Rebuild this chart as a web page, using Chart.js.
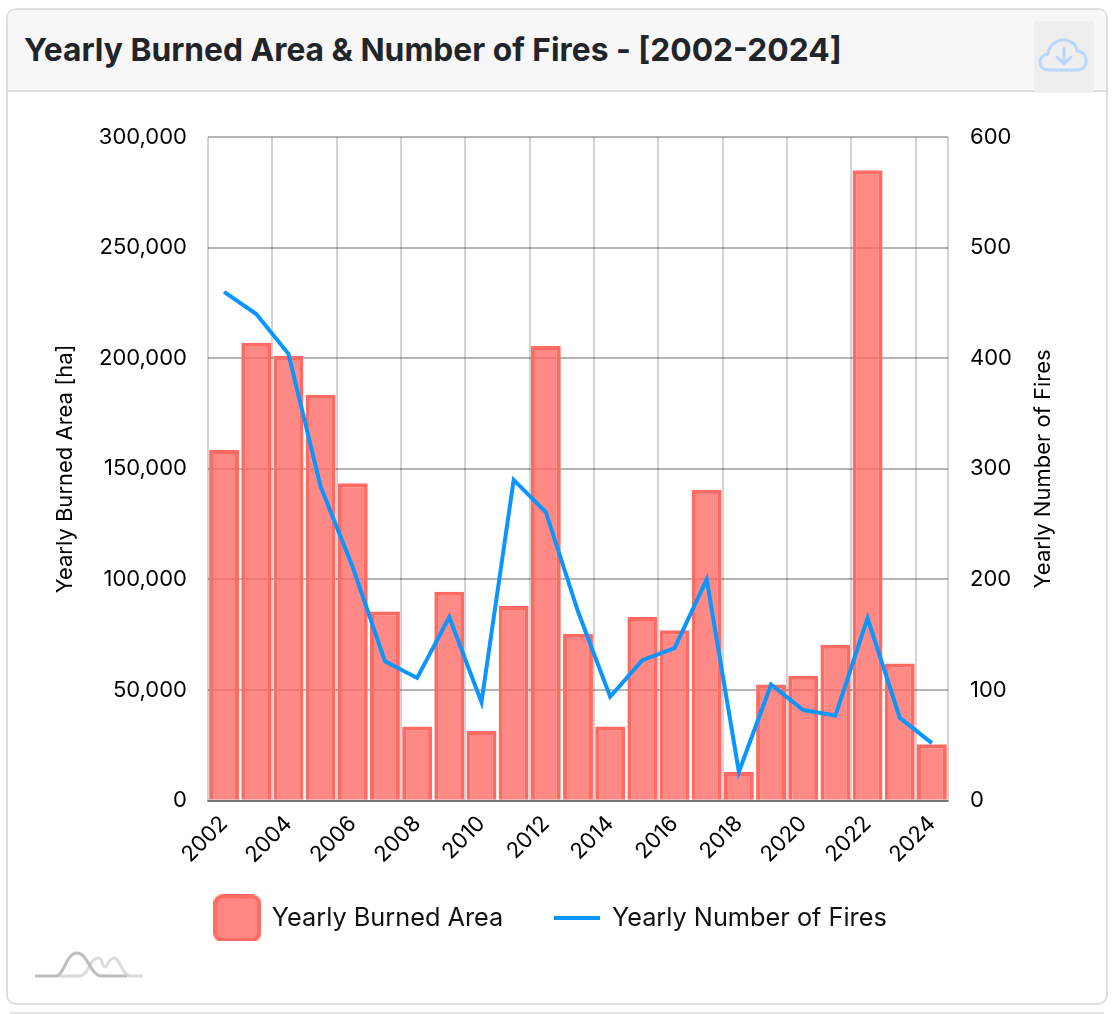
<!DOCTYPE html>
<html><head><meta charset="utf-8">
<script src="https://cdn.jsdelivr.net/npm/chart.js@4"></script>
<style>
html,body{margin:0;padding:0;background:#fff;width:1114px;height:1014px;overflow:hidden}
#card{position:absolute;left:6px;top:8px;width:1098px;height:993px;border:2px solid #dfdfdf;border-radius:10px;box-sizing:content-box}
#head{position:absolute;left:0;top:0;right:0;height:80px;background:#f7f7f7;border-bottom:2px solid #dfdfdf;border-radius:8px 8px 0 0}
#title{position:absolute;left:16px;top:20px;font:700 31.75px/40px Inter,sans-serif;color:#212529;white-space:nowrap}
#btn{position:absolute;left:1026px;top:11px;width:60px;height:72px;background:#eee;border-radius:4px}
#next{position:absolute;left:10px;top:1012px;width:1094px;height:2px;background:#e6e6e6}
canvas{position:absolute;left:8px;top:92px}
svg{position:absolute}
</style></head><body>
<div id="card"><div id="head"><div id="title">Yearly Burned Area &amp; Number of Fires - [2002-2024]</div>
<div id="btn"></div></div></div>
<div id="next"></div>
<svg style="left:1036px;top:36px" width="56" height="40" viewBox="0 0 56 40" fill="none" stroke="#b9d6fb" stroke-width="3" stroke-linecap="round" stroke-linejoin="round">
<path d="M13 34 C1 34 1 19 12 18 C13 8 24 1 33 5 C38 7 41 11 41 15 C52 15 54 33 42 34 Z"/><path d="M28 12 V27 M21 21 L28 28 L35 21"/></svg>
<svg style="left:30px;top:945px" width="120" height="40" viewBox="0 0 120 40" fill="none" stroke-width="3">
<path stroke="#dcdcdc" d="M28 31 H50 C58 31 60 13 68 13 C73 13 72 22 75 22 C78 22 78 13 84 13 C90 13 92 31 100 31 H113"/>
<path stroke="#bdbdbd" d="M5 31 H26 C34 31 36 8 47 8 C58 8 60 31 72 31 H97"/></svg>
<canvas id="c" width="1098" height="910"></canvas>
<script>
const years=['2002','2003','2004','2005','2006','2007','2008','2009','2010','2011','2012','2013','2014','2015','2016','2017','2018','2019','2020','2021','2022','2023','2024'];
const burnedArea=[158500,207000,201000,183500,143500,85500,33500,94500,31500,88000,205500,75500,33500,83000,77000,140500,13000,52500,56500,70500,285000,62000,25500];
const fireCount=[460,440,404,284,211,126,111,166,89,290,261,171,94,127,138,200,26,105,82,77,165,75,52];
const leftTitle='Yearly Burned Area [ha]', rightTitle='Yearly Number of Fires';
const barFill='rgba(255,99,92,0.75)', barEdge='#ff6b63', lineColor='#0a95ff';
const fam='Inter, sans-serif';
const font={family:fam,size:22};
function boxIcon(){const c=document.createElement('canvas');c.width=48;c.height=48;const g=c.getContext('2d');
 g.beginPath();g.roundRect(2,2,44,44,7);g.fillStyle='#ff8783';g.fill();g.lineWidth=4;g.strokeStyle=barEdge;g.stroke();return c;}
function lineIcon(){const c=document.createElement('canvas');c.width=46;c.height=4;const g=c.getContext('2d');
 g.fillStyle=lineColor;g.fillRect(0,0,46,4);return c;}
const rightTitlePlugin={id:'rightTitle',afterDraw(ch){const s=ch.scales.y1,g=ch.ctx;g.save();
 g.translate(s.right-13,(s.top+s.bottom)/2);g.rotate(-Math.PI/2);g.textAlign='center';g.textBaseline='middle';
 g.fillStyle='#000';g.font='22px '+fam;g.fillText(rightTitle,0,0);g.restore();}};
const legendShift={id:'legendShift',afterLayout(ch){ch.legend.top-=20;ch.legend.bottom-=20;}};
new Chart(document.getElementById('c'),{
 plugins:[rightTitlePlugin,legendShift],
 data:{labels:years,datasets:[
  {type:'line',label:'Yearly Number of Fires',data:fireCount,yAxisID:'y1',borderColor:lineColor,backgroundColor:lineColor,borderWidth:4,pointRadius:0,tension:0,order:1},
  {type:'bar',label:'Yearly Burned Area',data:burnedArea,yAxisID:'y',backgroundColor:barFill,borderColor:barEdge,borderWidth:4,categoryPercentage:1,barPercentage:0.93,order:2}
 ]},
 options:{responsive:false,animation:false,devicePixelRatio:1,
  layout:{padding:{left:38,right:50,top:45,bottom:41}},
  plugins:{tooltip:{enabled:false},
   legend:{position:'bottom',reverse:true,labels:{usePointStyle:true,pointStyleWidth:44,padding:52,color:'#111',font:{family:fam,size:25.3},
    generateLabels(ch){return ch.data.datasets.map((d,i)=>({text:d.label,datasetIndex:i,fontColor:'#111',pointStyle:d.type==='bar'?boxIcon():lineIcon(),hidden:false}));}}}},
  scales:{
   x:{grid:{color:c=>c.index%2?'rgba(0,0,0,0)':'rgba(0,0,0,0.17)',lineWidth:2,drawTicks:false,offset:true},border:{color:'rgba(0,0,0,0.35)',width:2},
      afterFit(s){s.height=73;},
      ticks:{color:'#000',font,maxRotation:45,minRotation:45,autoSkip:false,padding:10,callback(v,i){return i%2?'':years[i];}}},
   y:{position:'left',min:0,max:300000,grid:{color:'rgba(0,0,0,0.29)',lineWidth:2,drawTicks:false},border:{display:false},
      afterFit(s){s.width=162;},
      title:{display:true,text:leftTitle,color:'#000',font:{family:fam,size:22},padding:{top:6,bottom:0}},
      ticks:{color:'#000',font,stepSize:50000,padding:21,callback:v=>v.toLocaleString('en-US')}},
   y1:{position:'right',min:0,max:600,grid:{drawOnChartArea:false,drawTicks:false},border:{display:false},
      afterFit(s){s.width=108;},
      ticks:{color:'#000',font,stepSize:100,padding:22}}
  }}
});
</script></body></html>
